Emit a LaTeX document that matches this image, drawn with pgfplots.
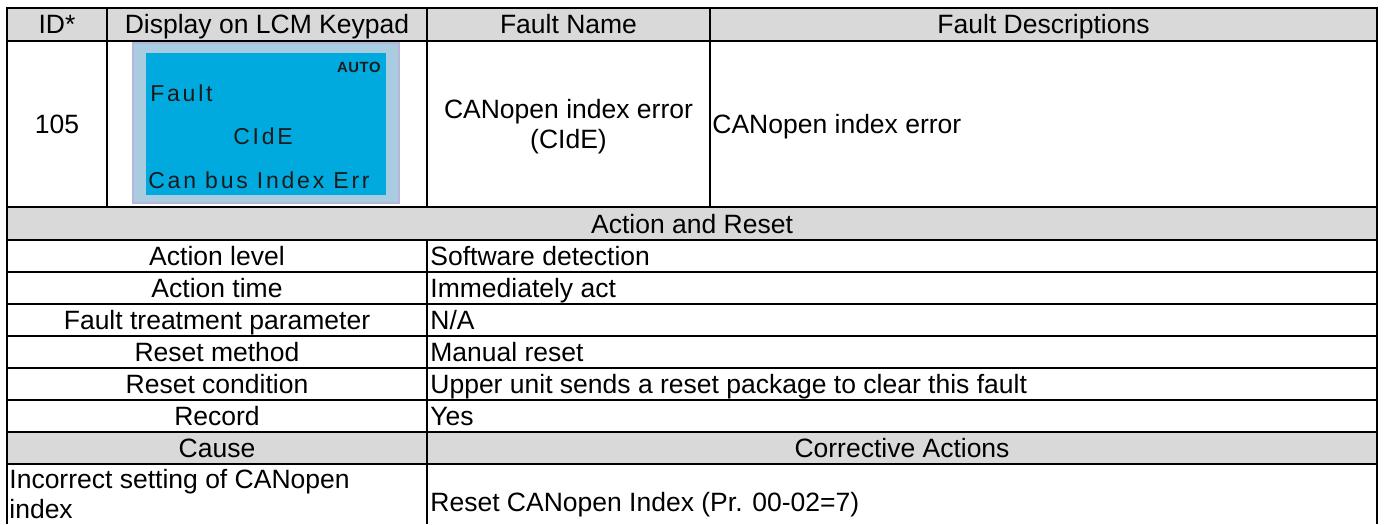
\documentclass[border=0pt]{standalone}
\usepackage{fontspec}
\setmainfont{Liberation Sans}
\newfontfamily\lcmfont[LetterSpace=12]{Liberation Sans}
\newfontfamily\lcmbold[LetterSpace=4]{Liberation Sans Bold}
\usepackage{pgfplots}
\pgfplotsset{compat=1.18}
\definecolor{hdr}{HTML}{D9D9D9}
\definecolor{lcmouter}{HTML}{A9CCE0}
\definecolor{lcmedge}{HTML}{B6B6DA}
\definecolor{lcminner}{HTML}{00AADF}
\definecolor{lcmtext}{HTML}{1A1A1A}
\tikzset{t/.style={font=\fontsize{13.25}{15.25}\selectfont, inner sep=0pt, text=black}}
\begin{document}
\begin{tikzpicture}
\begin{axis}[x=0.5pt, y=0.5pt, y dir=reverse, xmin=0, xmax=1384, ymin=0, ymax=523,
  hide axis, clip=false, scale only axis]
\fill[white] (axis cs:0,0) rectangle (axis cs:1384,523);
% gray rows
\addplot[fill=hdr, draw=none] coordinates {(7,8) (1377,8) (1377,41) (7,41)} -- cycle;
\addplot[fill=hdr, draw=none] coordinates {(7,207) (1377,207) (1377,240) (7,240)} -- cycle;
\addplot[fill=hdr, draw=none] coordinates {(7,432) (1377,432) (1377,464) (7,464)} -- cycle;
% LCM panel
\addplot[fill=lcmouter, draw=lcmedge, line width=0.6pt] coordinates {(133,43) (399,43) (399,203) (133,203)} -- cycle;
\addplot[fill=lcminner, draw=none] coordinates {(146,53) (386,53) (386,195) (146,195)} -- cycle;
% grid lines
\addplot[black, line width=1pt, unbounded coords=jump, line cap=rect] coordinates {
 (7,8) (1377,8) (nan,nan)
 (7,41) (1377,41) (nan,nan)
 (7,207) (1377,207) (nan,nan)
 (7,240) (1377,240) (nan,nan)
 (7,272) (1377,272) (nan,nan)
 (7,304) (1377,304) (nan,nan)
 (7,336) (1377,336) (nan,nan)
 (7,368) (1377,368) (nan,nan)
 (7,400) (1377,400) (nan,nan)
 (7,432) (1377,432) (nan,nan)
 (7,464) (1377,464) (nan,nan)
 (7,8) (7,523) (nan,nan)
 (1377,8) (1377,523) (nan,nan)
 (107,8) (107,207) (nan,nan)
 (427,8) (427,207) (nan,nan)
 (710,8) (710,207) (nan,nan)
 (427,240) (427,523)
};
% header
\node[t, anchor=base] at (axis cs:57,33.5) {ID*};
\node[t, anchor=base] at (axis cs:267,33.5) {Display on LCM Keypad};
\node[t, anchor=base] at (axis cs:568.5,33.5) {Fault Name};
\node[t, anchor=base] at (axis cs:1043.5,33.5) {Fault Descriptions};
% row 2
\node[t, anchor=base] at (axis cs:57,133.5) {105};
\node[t, anchor=base] at (axis cs:568.5,119) {CANopen index error};
\node[t, anchor=base] at (axis cs:568.5,148.5) {(CIdE)};
\node[t, anchor=base west] at (axis cs:712,133.5) {CANopen index error};
% LCM texts
\node[inner sep=0pt, anchor=base east, text=lcmtext, font=\lcmbold\fontsize{7.4}{8}\selectfont] at (axis cs:381,73) {AUTO};
\node[inner sep=0pt, anchor=base west, text=lcmtext, font=\lcmfont\fontsize{11.5}{13}\selectfont] at (axis cs:150,102) {Fault};
\node[inner sep=0pt, anchor=base, text=lcmtext, font=\lcmfont\fontsize{11.5}{13}\selectfont] at (axis cs:263,144) {CIdE};
\node[inner sep=0pt, anchor=base west, text=lcmtext, font=\lcmfont\fontsize{11.5}{13}\selectfont] at (axis cs:148,188) {Can bus Index Err};
% action and reset
\node[t, anchor=base] at (axis cs:692,233) {Action and Reset};
\node[t, anchor=base] at (axis cs:217,265.5) {Action level};
\node[t, anchor=base] at (axis cs:217,297.5) {Action time};
\node[t, anchor=base] at (axis cs:217,329.5) {Fault treatment parameter};
\node[t, anchor=base] at (axis cs:217,361.5) {Reset method};
\node[t, anchor=base] at (axis cs:217,393.5) {Reset condition};
\node[t, anchor=base] at (axis cs:217,425.5) {Record};
\node[t, anchor=base west] at (axis cs:430,265.5) {Software detection};
\node[t, anchor=base west] at (axis cs:430,297.5) {Immediately act};
\node[t, anchor=base west] at (axis cs:430,329.5) {N/A};
\node[t, anchor=base west] at (axis cs:430,361.5) {Manual reset};
\node[t, anchor=base west] at (axis cs:430,393.5) {Upper unit sends a reset package to clear this fault};
\node[t, anchor=base west] at (axis cs:430,425.5) {Yes};
% cause
\node[t, anchor=base] at (axis cs:217,457.5) {Cause};
\node[t, anchor=base] at (axis cs:902,457.5) {Corrective Actions};
\node[t, anchor=base west] at (axis cs:9,488) {Incorrect setting of CANopen};
\node[t, anchor=base west] at (axis cs:9,518) {index};
\node[t, anchor=base west] at (axis cs:430,511) {Reset CANopen Index (Pr. 00-02=7)};
\end{axis}
\end{tikzpicture}
\end{document}
